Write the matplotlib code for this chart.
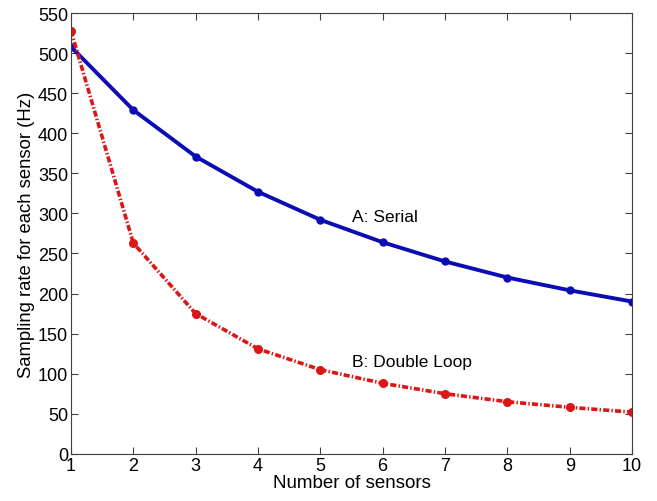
import matplotlib
matplotlib.use('Agg')
from matplotlib import pyplot as plt

plt.rcParams['font.family'] = ['Liberation Sans', 'DejaVu Sans']

# Data
sensors = [1, 2, 3, 4, 5, 6, 7, 8, 9, 10]
serial = [508, 429, 371, 327, 292, 264, 240, 220, 204, 190]
double_loop = [528, 263, 175, 131, 105, 88, 75, 65, 58, 52]

fig = plt.figure(figsize=(6.57, 5.02), dpi=100)
ax = fig.add_axes([0.108, 0.094, 0.854, 0.878])

ax.plot(sensors, serial, color='#0c0cb4', lw=2.8, marker='o', ms=5)
ax.plot(sensors, double_loop, color='#dc1616', lw=2.6, marker='o', ms=5.5,
        dashes=(1.7, 0.6, 0.4, 0.6))

ax.text(5.51, 291, 'A: Serial', fontsize=12.5)
ax.text(5.51, 110, 'B: Double Loop', fontsize=12.5)

ax.set_xlim(1, 10)
ax.set_ylim(0, 550)
ax.set_xticks(range(1, 11))
ax.set_yticks(range(0, 551, 50))
for s in ax.spines.values():
    s.set_color('#404040')
    s.set_linewidth(0.8)
ax.tick_params(direction='in', top=True, right=True, labelsize=13, length=5,
               color='#404040', pad=2)
ax.set_xlabel('Number of sensors', fontsize=13.5, labelpad=0)
ax.set_ylabel('Sampling rate for each sensor (Hz)', fontsize=13.3, labelpad=2)

fig.savefig('out.png', dpi=100)
